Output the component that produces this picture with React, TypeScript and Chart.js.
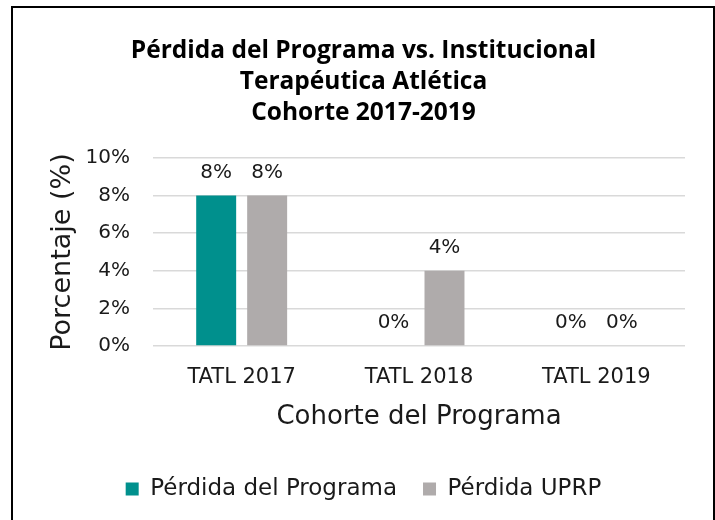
import React, { useEffect, useRef } from "react";
import { Chart, registerables } from "chart.js";

Chart.register(...registerables);

const categories = ["TATL 2017", "TATL 2018", "TATL 2019"];
const perdidaPrograma = [8, 0, 0];
const perdidaUPRP = [8, 4, 0];
const seriesNames = ["Pérdida del Programa", "Pérdida UPRP"];
const seriesColors = ["#00908D", "#AFABAB"];
const titleLines = ["Pérdida del Programa vs. Institucional", "Terapéutica Atlética", "Cohorte 2017-2019"];
const yAxisTitle = "Porcentaje (%)";
const xAxisTitle = "Cohorte del Programa";
const yMin = 0;
const yMax = 10;
const yStep = 2;

const FONT = "'DejaVu Sans', sans-serif";
const TITLE_FONT = "'Open Sans', sans-serif";

const dataLabelPlugin = {
  id: "dataLabels",
  afterDatasetsDraw(chart: any) {
    const ctx = chart.ctx;
    ctx.save();
    ctx.font = `20px ${FONT}`;
    ctx.fillStyle = "#1a1a1a";
    ctx.textAlign = "center";
    ctx.textBaseline = "middle";
    chart.data.datasets.forEach((ds: any, i: number) => {
      const meta = chart.getDatasetMeta(i);
      meta.data.forEach((el: any, j: number) => {
        ctx.fillText(`${ds.data[j]}%`, el.x, el.y - 23);
      });
    });
    ctx.restore();
  },
};

export default function App() {
  const ref = useRef<HTMLCanvasElement>(null);
  useEffect(() => {
    if (!ref.current) return;
    const chart = new Chart(ref.current, {
      type: "bar",
      data: {
        labels: categories,
        datasets: [
          { label: seriesNames[0], data: perdidaPrograma, backgroundColor: seriesColors[0] },
          { label: seriesNames[1], data: perdidaUPRP, backgroundColor: seriesColors[1] },
        ],
      },
      options: {
        responsive: false,
        animation: false,
        devicePixelRatio: 1,
        categoryPercentage: 0.575,
        barPercentage: 0.784,
        layout: { padding: { left: 12, right: 0, top: 0, bottom: 9.5 } },
        plugins: {
          title: {
            display: true,
            text: titleLines,
            color: "#000",
            font: { family: TITLE_FONT, size: 24.5, weight: "bold", lineHeight: 1.265 },
            padding: { top: 35.5, bottom: 29.5 },
          },
          legend: {
            position: "bottom",
            labels: {
              boxWidth: 13,
              boxHeight: 13,
              padding: 26,
              color: "#1a1a1a",
              font: { family: FONT, size: 23 },
            },
          },
          tooltip: { enabled: false },
        },
        scales: {
          x: {
            grid: { display: false },
            border: { display: false },
            ticks: { color: "#1a1a1a", font: { family: FONT, size: 21 }, padding: 11 },
            title: {
              display: true,
              text: xAxisTitle,
              color: "#1a1a1a",
              font: { family: FONT, size: 26 },
              padding: { top: 4, bottom: 19 },
            },
            afterFit: (s: any) => { s.height = 105.5; },
          },
          y: {
            min: yMin,
            max: yMax,
            grid: { color: "#D9D9D9", lineWidth: 1.5, drawTicks: false },
            border: { display: false },
            ticks: {
              stepSize: yStep,
              color: "#1a1a1a",
              font: { family: FONT, size: 20 },
              padding: 23,
              callback: (v: any) => `${v}%`,
            },
            title: {
              display: true,
              text: yAxisTitle,
              color: "#1a1a1a",
              font: { family: FONT, size: 27 },
              padding: 35,
            },
            afterFit: (s: any) => { s.width = 141; },
          },
          y2: {
            type: "linear",
            position: "right",
            display: true,
            grid: { display: false },
            border: { display: false },
            ticks: { display: false },
            afterFit: (s: any) => { s.width = 30; },
          },
        },
      },
      plugins: [dataLabelPlugin],
    } as any);
    return () => chart.destroy();
  }, []);
  return (
    <>
      <canvas
        ref={ref}
        width={715}
        height={520}
        style={{ position: "fixed", left: 0, top: 0, width: 715, height: 520, display: "block" }}
      />
      <div
        style={{
          position: "fixed",
          left: 11,
          top: 6,
          width: 704,
          height: 530,
          boxSizing: "border-box",
          border: "2px solid #000",
          pointerEvents: "none",
        }}
      />
    </>
  );
}
